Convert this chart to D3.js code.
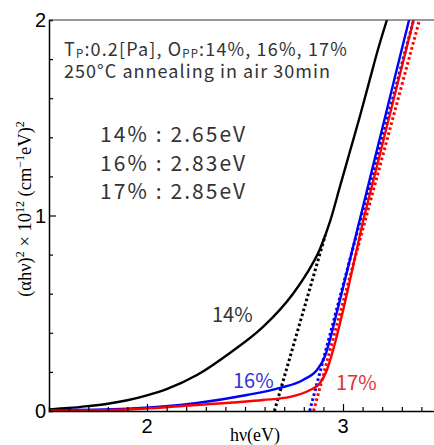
<!DOCTYPE html>
<html>
<head>
<meta charset="utf-8">
<script src="https://cdn.jsdelivr.net/npm/d3@7"></script>
<style>
  body { margin: 0; background: #fff; }
  svg { display: block; }
</style>
</head>
<body>
<svg id="chart" width="434" height="445"></svg>
<script>
// photon energy (eV) and (ahv)^2 x 1e12
var blackE = [1.5, 1.6, 1.7, 1.8, 1.9, 2.0, 2.1, 2.255, 2.423, 2.592, 2.745, 2.816, 2.883, 2.934, 2.985, 3.036, 3.087, 3.138, 3.173, 3.224];
var blackY = [0.008, 0.015, 0.025, 0.037, 0.055, 0.08, 0.112, 0.184, 0.297, 0.43, 0.6, 0.705, 0.83, 0.97, 1.15, 1.33, 1.51, 1.70, 1.83, 2.0];

var blueE = [1.5, 1.9, 2.255, 2.51, 2.679, 2.796, 2.867, 2.908, 2.935, 2.96, 2.99, 3.05, 3.11, 3.17, 3.23, 3.29, 3.337];
var blueY = [0.004, 0.012, 0.041, 0.082, 0.118, 0.159, 0.21, 0.28, 0.37, 0.47, 0.59, 0.834, 1.078, 1.322, 1.566, 1.81, 2.0];

var redE = [1.5, 1.9, 2.255, 2.592, 2.73, 2.832, 2.883, 2.918, 2.949, 2.985, 3.02, 3.06, 3.1, 3.16, 3.22, 3.28, 3.36];
var redY = [0.0, 0.008, 0.031, 0.056, 0.072, 0.107, 0.143, 0.21, 0.31, 0.45, 0.60, 0.78, 0.96, 1.20, 1.44, 1.68, 2.0];

// linear fits (extrapolated to y = 0 -> band gap)
var fitNames = ["14%", "16%", "17%"];
var fitGap = [2.65, 2.83, 2.85];
var fitTopE = [2.91, 3.36, 3.39];
var fitTopY = [0.9, 2.0, 2.0];
var fitColors = ["#000", "#0000ff", "#ff0000"];

var xTicks = [2, 3];
var yTicks = [0, 1, 2];

var svg = d3.select("#chart");

var x = d3.scaleLinear().domain([1.5, 3.5]).range([49, 441]);
var y = d3.scaleLinear().domain([0, 2]).range([411, 20]);

svg.append("defs").append("clipPath").attr("id", "clip")
    .append("rect")
    .attr("x", x(1.5)).attr("y", y(2))
    .attr("width", x(3.5) - x(1.5)).attr("height", y(0) - y(2));

var plot = svg.append("g").attr("clip-path", "url(#clip)");

var line = d3.line()
    .x(function (d) { return x(d[0]); })
    .y(function (d) { return y(d[1]); })
    .curve(d3.curveMonotoneX);

function pairs(a, b) {
    return a.map(function (v, i) { return [v, b[i]]; });
}

// dotted fit lines under the curves
fitGap.forEach(function (g, i) {
    plot.append("line")
        .attr("x1", x(g)).attr("y1", y(0))
        .attr("x2", x(fitTopE[i])).attr("y2", y(fitTopY[i]))
        .attr("stroke", fitColors[i])
        .attr("stroke-width", 3)
        .attr("stroke-dasharray", "2.6,2.6");
});

var curves = [[blackE, blackY, "#000"], [blueE, blueY, "#0000ff"], [redE, redY, "#ff0000"]];
curves.forEach(function (c) {
    plot.append("path")
        .attr("d", line(pairs(c[0], c[1])))
        .attr("fill", "none")
        .attr("stroke", c[2])
        .attr("stroke-width", 2.4);
});

// axes, ticks inward
var xAxis = d3.axisBottom(x).tickValues(d3.range(1.6, 3.5, 0.1)).tickSize(-4).tickFormat("");
var gx = svg.append("g").attr("transform", "translate(0," + y(0) + ")").call(xAxis);
gx.selectAll(".tick line").filter(function (d) { return Math.abs(d - Math.round(d)) < 1e-6; }).attr("y2", -7);

var yAxis = d3.axisLeft(y).tickValues(d3.range(0.2, 2, 0.2)).tickSize(-4).tickFormat("");
var gy = svg.append("g").attr("transform", "translate(" + x(1.5) + ",0)").call(yAxis);
gy.selectAll(".tick line").filter(function (d) { return Math.abs(d - 1) < 1e-6; }).attr("x2", 7);

[gx, gy].forEach(function (g) {
    g.select(".domain").attr("stroke", "#000").attr("stroke-width", 1.5);
    g.selectAll(".tick line").attr("stroke", "#000").attr("stroke-width", 1.2);
});

// top frame
svg.append("line")
    .attr("x1", x(1.5)).attr("x2", x(3.5))
    .attr("y1", y(2)).attr("y2", y(2))
    .attr("stroke", "#333").attr("stroke-width", 1.2);

var tickFont = "'Liberation Sans', Arial, sans-serif";
svg.selectAll(".xl").data(xTicks).enter().append("text")
    .attr("x", function (d) { return x(d); })
    .attr("y", 433)
    .attr("text-anchor", "middle")
    .attr("font-family", tickFont).attr("font-size", 20)
    .text(function (d) { return d; });

svg.selectAll(".yl").data(yTicks).enter().append("text")
    .attr("x", 46)
    .attr("y", function (d) { return y(d) + 7; })
    .attr("text-anchor", "end")
    .attr("font-family", tickFont).attr("font-size", 20)
    .text(function (d) { return d; });

// axis titles
var serif = "'Liberation Serif', 'DejaVu Serif', serif";
svg.append("text")
    .attr("x", 255).attr("y", 441)
    .attr("text-anchor", "middle")
    .attr("font-family", serif).attr("font-size", 18)
    .text("hν(eV)");

var ylab = svg.append("text")
    .attr("transform", "translate(31,209) rotate(-90)")
    .attr("text-anchor", "middle")
    .attr("font-family", serif).attr("font-size", 18.5);
ylab.append("tspan").text("(αhν)");
ylab.append("tspan").attr("baseline-shift", "super").attr("font-size", 12).text("2");
ylab.append("tspan").text(" × 10");
ylab.append("tspan").attr("baseline-shift", "super").attr("font-size", 12).text("12");
ylab.append("tspan").text(" (cm");
ylab.append("tspan").attr("baseline-shift", "super").attr("font-size", 12).text("−1");
ylab.append("tspan").text("eV)");
ylab.append("tspan").attr("baseline-shift", "super").attr("font-size", 12).text("2");

// annotations
var jp = "'Noto Sans CJK JP', 'Noto Sans', sans-serif";
var t1 = svg.append("text").attr("x", 64).attr("y", 56)
    .attr("font-family", jp).attr("font-size", 18).attr("fill", "#333")
    .attr("letter-spacing", 1.15);
t1.append("tspan").text("T");
t1.append("tspan").attr("font-size", 11.5).attr("dy", 2).text("P");
t1.append("tspan").attr("dy", -2).text(":0.2[Pa], O");
t1.append("tspan").attr("font-size", 11.5).attr("dy", 2).text("PP");
t1.append("tspan").attr("dy", -2).text(":14%, 16%, 17%");

svg.append("text").attr("x", 64).attr("y", 78)
    .attr("font-family", jp).attr("font-size", 18).attr("fill", "#333")
    .attr("textLength", 266).attr("lengthAdjust", "spacing")
    .text("250°C annealing in air 30min");

svg.selectAll(".gap").data(fitNames).enter().append("text")
    .attr("x", 100)
    .attr("y", function (d, i) { return 142 + i * 28.5; })
    .attr("font-family", jp).attr("font-size", 21).attr("fill", "#333")
    .attr("textLength", 145).attr("lengthAdjust", "spacing")
    .text(function (d, i) { return d + " : " + fitGap[i].toFixed(2) + "eV"; });

var curveLabels = [[212, 322, "#333"], [233, 388, "#3333e0"], [336, 390, "#e03333"]];
curveLabels.forEach(function (c, i) {
    svg.append("text")
        .attr("x", c[0]).attr("y", c[1])
        .attr("font-family", jp).attr("font-size", 20).attr("fill", c[2])
        .text(fitNames[i]);
});
</script>
</body>
</html>
